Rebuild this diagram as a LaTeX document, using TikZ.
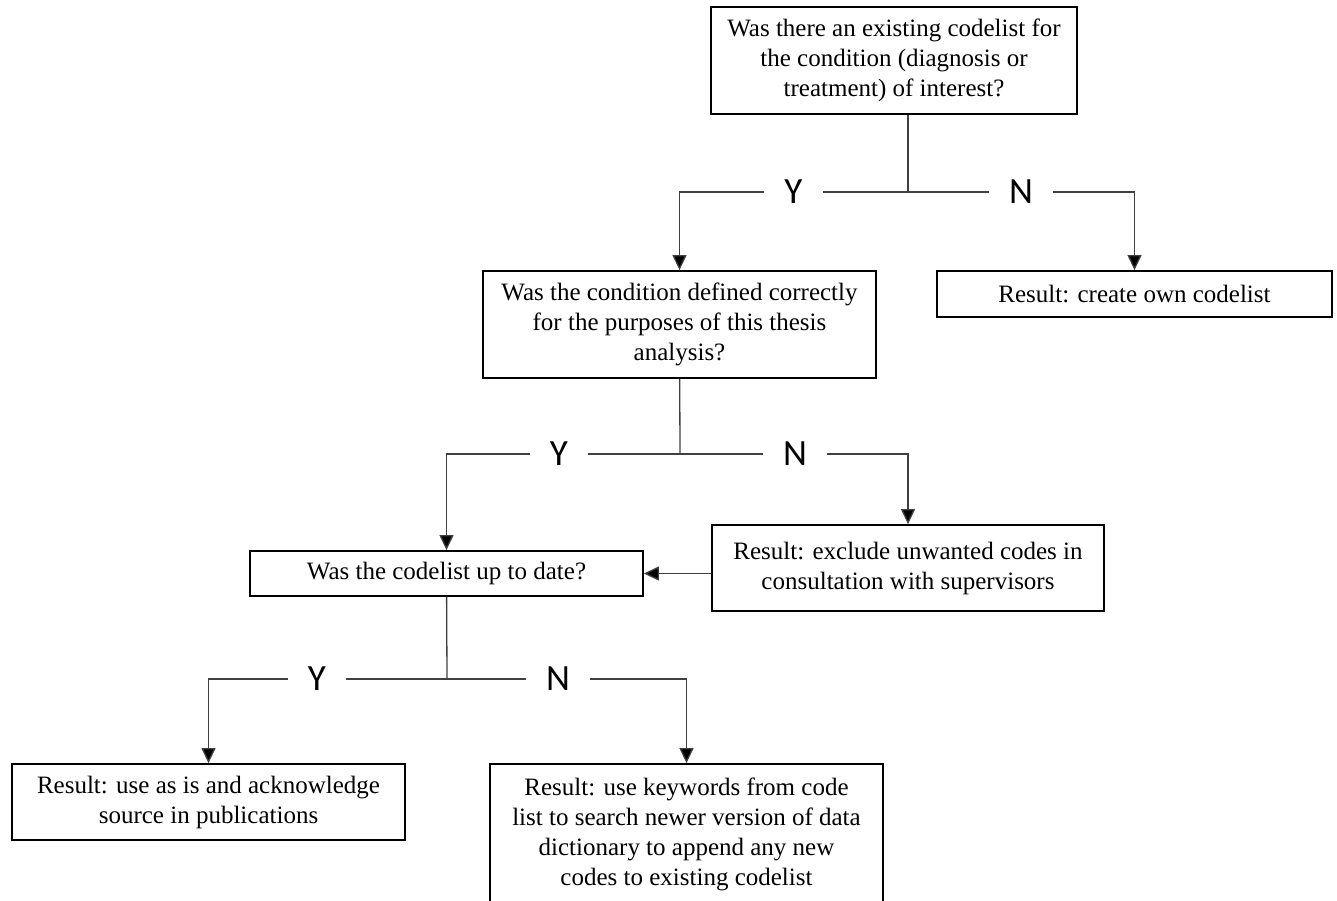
\documentclass[tikz,border=0pt]{standalone}
\usepackage{fontspec}
\setmainfont{Liberation Serif}
\newfontfamily\ynfont{Carlito}
\usetikzlibrary{arrows.meta}

\begin{document}
\begin{tikzpicture}[x=1pt, y=-1pt,
  box/.style={draw, line width=1.8pt, align=center, inner sep=0pt, font=\fontsize{25}{30}\selectfont},
  link/.style={draw=black!75, line width=1.3pt},
  arrow/.style={link, -{Triangle[width=14pt,length=15pt,fill=black]}},
  yn/.style={inner xsep=20pt, inner ysep=2pt, font=\ynfont\fontsize{37}{37}\selectfont}]
  \useasboundingbox (0,0) rectangle (1337,900);

  \node[box, minimum width=366pt, minimum height=107pt] (Q1) at (894,60.5)
    {Was there an existing codelist for\\the condition (diagnosis or\\treatment) of interest?};
  \node[box, minimum width=393pt, minimum height=107pt] (Q2) at (679.5,324.5)
    {Was the condition defined correctly\\for the purposes of this thesis\\analysis?};
  \node[box, minimum width=395pt, minimum height=46pt] (R1) at (1134.5,294)
    {Result: create own codelist};
  \node[box, minimum width=393pt, minimum height=45pt] (Q3) at (446.5,573.5)
    {Was the codelist up to date?};
  \node[box, minimum width=392pt, minimum height=86pt] (R2) at (908,568)
    {Result: exclude unwanted codes in\\consultation with supervisors};
  \node[box, minimum width=393pt, minimum height=76pt] (R3) at (208.5,802)
    {Result: use as is and acknowledge\\source in publications};
  \node[box, minimum width=393pt, minimum height=140pt] (R4) at (686.5,834)
    {Result: use keywords from code\\list to search newer version of data\\dictionary to append any new\\codes to existing codelist};

  % junctions and Y/N labels
  \coordinate (J1) at (908,192);
  \coordinate (J2) at (680,454);
  \coordinate (J3) at (447,679);
  \node[yn] (Y1) at (793.5,192) {Y};
  \node[yn] (N1) at (1021,192) {N};
  \node[yn] (Y2) at (559,454) {Y};
  \node[yn] (N2) at (795,454) {N};
  \node[yn] (Y3) at (317,679) {Y};
  \node[yn] (N3) at (558,679) {N};

  \draw[link] (Q1.south -| J1) -- (J1);
  \draw[link] (J1) -- (Y1);
  \draw[link] (J1) -- (N1);
  \draw[arrow] (Y1) -| (Q2);
  \draw[arrow] (N1) -| (R1);

  \draw[link] (Q2) -- (J2);
  \draw[link] (J2) -- (Y2);
  \draw[link] (J2) -- (N2);
  \draw[arrow] (Y2) -| (Q3);
  \draw[arrow] (N2) -| (R2);
  \draw[arrow] (R2.west |- Q3) -- (Q3);

  \draw[link] (Q3) -- (J3);
  \draw[link] (J3) -- (Y3);
  \draw[link] (J3) -- (N3);
  \draw[arrow] (Y3) -| (R3);
  \draw[arrow] (N3) -| (R4);
\end{tikzpicture}
\end{document}
